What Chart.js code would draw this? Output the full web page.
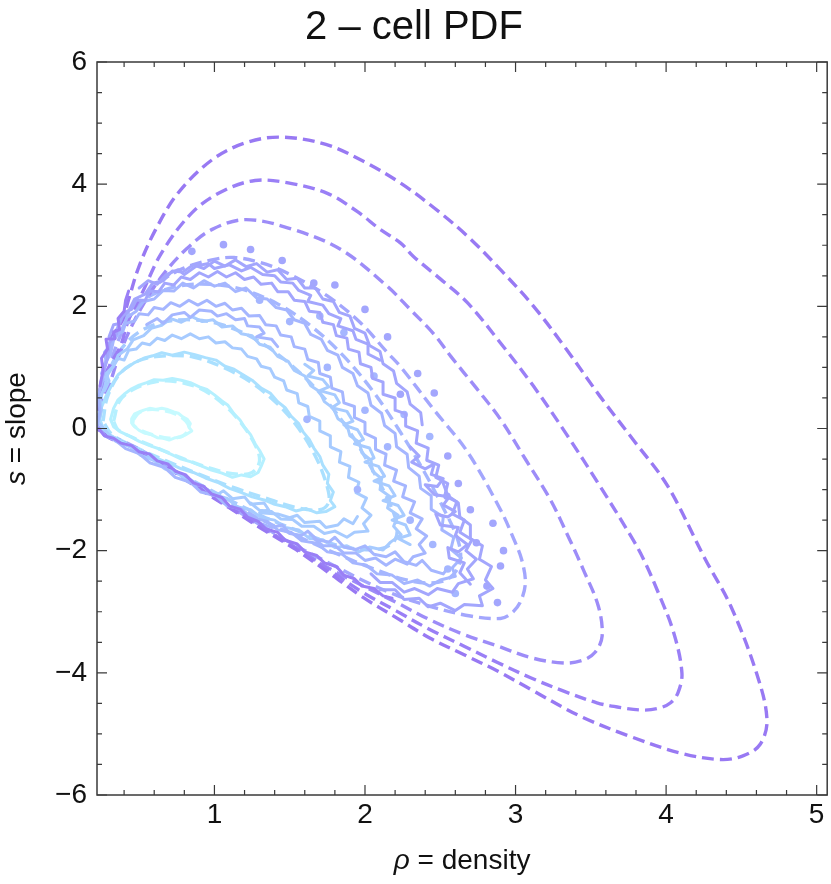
<!DOCTYPE html>
<html lang="en">
<head>
  <meta charset="UTF-8" />
  <title>2-cell PDF</title>
  <script src="https://cdn.jsdelivr.net/npm/chart.js"></script>
  <style>
    html, body { margin: 0; padding: 0; background: #fff; }
    #wrap { position: relative; width: 831px; height: 884px; }
  </style>
</head>
<body>
<div id="wrap"><canvas id="pdfChart"></canvas></div>
<script>
// axis ticks
const X_TICKS = [1, 2, 3, 4, 5];
const X_MINOR = [0.4, 0.6, 0.8, 1.2, 1.4, 1.6, 1.8, 2.2, 2.4, 2.6, 2.8, 3.2, 3.4, 3.6, 3.8, 4.2, 4.4, 4.6, 4.8];
const Y_TICKS = [-6, -4, -2, 0, 2, 4, 6];
const Y_MINOR = [-5.5, -5, -4.5, -3.5, -3, -2.5, -1.5, -1, -0.5, 0.5, 1, 1.5, 2.5, 3, 3.5, 4.5, 5, 5.5];

// contour colours, innermost (high density) to outermost
const LEVEL_COLORS = ['#c6faff', '#b5f0ff', '#aae0ff', '#a7cbff', '#a5b6ff', '#a3a6fd', '#9d8cf8', '#9a7ff6', '#9879f3'];

// theory contours (dashed), [rho, s]
const T1 = [[0.46,0.14],[0.50,0.26],[0.56,0.31],[0.65,0.30],[0.74,0.24],[0.81,0.12],[0.83,0.0],[0.79,-0.12],[0.70,-0.16],[0.60,-0.11],[0.51,-0.03],[0.46,0.06],[0.46,0.14]];
const T2 = [[0.33,0.12],[0.37,0.45],[0.46,0.64],[0.60,0.76],[0.74,0.77],[0.90,0.66],[1.04,0.44],[1.16,0.14],[1.26,-0.22],[1.30,-0.52],[1.25,-0.72],[1.12,-0.74],[0.96,-0.64],[0.78,-0.48],[0.60,-0.30],[0.45,-0.14],[0.36,-0.02],[0.33,0.12]];
const T3 = [[0.26,0.12],[0.29,0.52],[0.38,0.92],[0.52,1.13],[0.68,1.19],[0.86,1.17],[1.05,1.01],[1.24,0.76],[1.42,0.40],[1.56,0.0],[1.67,-0.45],[1.74,-0.88],[1.76,-1.20],[1.70,-1.33],[1.54,-1.29],[1.34,-1.14],[1.12,-0.96],[0.90,-0.75],[0.68,-0.53],[0.47,-0.30],[0.32,-0.10],[0.26,0.12]];
const T4 = [[0.23,0.1],[0.25,0.55],[0.30,0.95],[0.38,1.30],[0.50,1.58],[0.66,1.74],[0.85,1.78],[1.05,1.70],[1.28,1.45],[1.50,1.06],[1.70,0.58],[1.87,0.05],[2.02,-0.55],[2.14,-1.10],[2.21,-1.55],[2.20,-1.82],[2.12,-1.96],[1.98,-1.98],[1.80,-1.90],[1.58,-1.70],[1.34,-1.46],[1.10,-1.17],[0.86,-0.86],[0.62,-0.55],[0.40,-0.27],[0.28,-0.10],[0.23,0.1]];
const T5 = [[0.22,0.05],[0.24,0.6],[0.28,1.1],[0.34,1.55],[0.44,1.93],[0.58,2.18],[0.76,2.33],[0.97,2.36],[1.18,2.28],[1.42,2.04],[1.65,1.66],[1.86,1.18],[2.05,0.62],[2.22,0.0],[2.38,-0.65],[2.52,-1.30],[2.62,-1.85],[2.63,-2.20],[2.56,-2.45],[2.43,-2.53],[2.26,-2.47],[2.06,-2.30],[1.84,-2.08],[1.60,-1.82],[1.36,-1.55],[1.12,-1.24],[0.88,-0.90],[0.64,-0.56],[0.42,-0.26],[0.29,-0.11],[0.22,0.05]];
const T6 = [[0.22,0.0],[0.24,0.35],[0.28,0.8],[0.34,1.3],[0.42,1.75],[0.52,2.12],[0.65,2.42],[0.8,2.63],[1.0,2.77],[1.13,2.80],[1.3,2.72],[1.48,2.55],[1.75,2.17],[1.97,1.73],[2.15,1.24],[2.24,1.0],[2.46,0.30],[2.68,-0.38],[2.90,-1.33],[2.99,-1.82],[3.04,-2.14],[3.065,-2.53],[3.03,-2.85],[2.97,-3.03],[2.90,-3.11],[2.70,-3.07],[2.43,-2.91],[2.2,-2.72],[1.98,-2.48],[1.76,-2.2],[1.54,-1.92],[1.32,-1.6],[1.1,-1.27],[0.87,-0.91],[0.65,-0.55],[0.43,-0.25],[0.3,-0.12],[0.22,0.0]];
const T7 = [[0.22,0.0],[0.24,0.35],[0.30,0.70],[0.36,1.15],[0.43,1.57],[0.52,2.0],[0.65,2.49],[0.81,2.93],[0.985,3.26],[1.21,3.42],[1.52,3.26],[1.84,2.93],[2.147,2.33],[2.30,1.95],[2.456,1.55],[2.57,1.18],[2.74,0.66],[2.90,0.15],[3.07,-0.52],[3.23,-1.16],[3.36,-1.82],[3.45,-2.31],[3.55,-2.91],[3.575,-3.40],[3.53,-3.66],[3.45,-3.79],[3.32,-3.84],[3.10,-3.75],[2.88,-3.56],[2.655,-3.37],[2.43,-3.13],[2.21,-2.85],[1.99,-2.58],[1.77,-2.30],[1.54,-1.95],[1.32,-1.62],[1.10,-1.28],[0.87,-0.92],[0.65,-0.57],[0.43,-0.27],[0.30,-0.14],[0.22,0.0]];
const T8 = [[0.22,0.0],[0.24,0.4],[0.27,0.85],[0.32,1.10],[0.376,1.35],[0.43,1.78],[0.52,2.22],[0.65,2.88],[0.85,3.53],[1.05,3.88],[1.27,4.06],[1.49,4.02],[1.75,3.85],[1.95,3.55],[2.10,3.26],[2.235,3.04],[2.32,2.82],[2.50,2.45],[2.68,2.06],[2.90,1.40],[3.12,0.69],[3.34,-0.10],[3.56,-0.94],[3.78,-1.82],[3.85,-2.14],[3.94,-2.64],[4.05,-3.34],[4.105,-4.0],[4.08,-4.32],[4.03,-4.49],[3.95,-4.58],[3.85,-4.61],[3.70,-4.57],[3.54,-4.49],[3.32,-4.30],[3.10,-4.08],[2.88,-3.83],[2.655,-3.56],[2.43,-3.29],[2.21,-2.99],[1.99,-2.69],[1.77,-2.33],[1.54,-1.96],[1.32,-1.63],[1.10,-1.29],[0.87,-0.93],[0.65,-0.57],[0.43,-0.27],[0.30,-0.14],[0.22,0.0]];
const T9 = [[0.22,0.0],[0.23,0.35],[0.243,0.69],[0.28,1.13],[0.31,1.46],[0.35,1.62],[0.39,1.78],[0.43,2.11],[0.50,2.66],[0.61,3.26],[0.76,3.86],[0.985,4.40],[1.21,4.68],[1.44,4.77],[1.74,4.65],[2.0,4.36],[2.235,4.02],[2.46,3.61],[2.68,3.15],[2.90,2.60],[3.12,2.0],[3.34,1.29],[3.56,0.53],[3.78,-0.18],[4.01,-0.94],[4.26,-2.14],[4.43,-2.91],[4.60,-4.0],[4.67,-4.76],[4.625,-5.17],[4.51,-5.36],[4.36,-5.42],[4.09,-5.31],[3.76,-5.04],[3.43,-4.71],[3.10,-4.27],[2.88,-3.97],[2.655,-3.70],[2.43,-3.43],[2.21,-3.10],[1.99,-2.77],[1.77,-2.38],[1.54,-1.98],[1.32,-1.65],[1.10,-1.30],[0.87,-0.94],[0.65,-0.58],[0.43,-0.28],[0.30,-0.15],[0.22,0.0]];

// simulated contours (solid, noisy), [rho, s]
const N1 = [[0.45,0.16],[0.47,0.24],[0.50,0.27],[0.53,0.30],[0.57,0.33],[0.61,0.31],[0.65,0.33],[0.69,0.31],[0.73,0.27],[0.76,0.25],[0.79,0.19],[0.82,0.15],[0.84,0.08],[0.83,0.02],[0.85,-0.04],[0.81,-0.10],[0.78,-0.14],[0.74,-0.15],[0.70,-0.19],[0.66,-0.16],[0.62,-0.15],[0.58,-0.10],[0.54,-0.08],[0.50,-0.03],[0.47,0.03],[0.45,0.09],[0.45,0.16]];
const N2 = [[0.31,0.15],[0.33,0.33],[0.36,0.47],[0.40,0.56],[0.45,0.65],[0.50,0.71],[0.55,0.75],[0.60,0.80],[0.66,0.79],[0.72,0.82],[0.78,0.79],[0.84,0.75],[0.90,0.68],[0.95,0.64],[1.0,0.55],[1.05,0.45],[1.09,0.38],[1.13,0.24],[1.17,0.14],[1.20,0.02],[1.24,-0.10],[1.27,-0.25],[1.30,-0.36],[1.33,-0.50],[1.31,-0.62],[1.29,-0.72],[1.24,-0.79],[1.18,-0.76],[1.12,-0.80],[1.05,-0.73],[0.98,-0.68],[0.92,-0.62],[0.85,-0.55],[0.78,-0.50],[0.71,-0.42],[0.64,-0.34],[0.57,-0.28],[0.50,-0.21],[0.44,-0.13],[0.38,-0.06],[0.33,0.03],[0.31,0.15]];
const N3 = [[0.24,0.15],[0.25,0.35],[0.28,0.53],[0.32,0.72],[0.36,0.88],[0.41,0.98],[0.47,1.08],[0.53,1.15],[0.59,1.19],[0.65,1.24],[0.72,1.20],[0.80,1.25],[0.87,1.21],[0.94,1.16],[1.01,1.12],[1.07,1.02],[1.13,0.97],[1.19,0.88],[1.25,0.79],[1.31,0.66],[1.37,0.58],[1.42,0.44],[1.47,0.34],[1.51,0.20],[1.56,0.08],[1.59,-0.06],[1.63,-0.18],[1.66,-0.32],[1.70,-0.46],[1.72,-0.60],[1.76,-0.75],[1.75,-0.90],[1.79,-1.04],[1.77,-1.18],[1.80,-1.28],[1.74,-1.36],[1.68,-1.38],[1.61,-1.31],[1.54,-1.35],[1.47,-1.28],[1.40,-1.24],[1.33,-1.17],[1.25,-1.12],[1.18,-1.05],[1.10,-0.98],[1.02,-0.88],[0.94,-0.81],[0.86,-0.72],[0.78,-0.66],[0.70,-0.57],[0.62,-0.49],[0.54,-0.40],[0.46,-0.30],[0.38,-0.21],[0.31,-0.11],[0.26,0.0],[0.24,0.15]];
const N4 = [[0.23,0.10],[0.25,0.30],[0.24,0.50],[0.27,0.68],[0.29,0.88],[0.33,1.02],[0.36,1.20],[0.42,1.30],[0.46,1.45],[0.53,1.52],[0.58,1.64],[0.65,1.69],[0.71,1.80],[0.78,1.74],[0.85,1.83],[0.92,1.75],[0.99,1.78],[1.05,1.66],[1.12,1.68],[1.18,1.55],[1.25,1.52],[1.30,1.38],[1.37,1.33],[1.42,1.18],[1.49,1.10],[1.53,0.95],[1.60,0.86],[1.64,0.70],[1.70,0.60],[1.73,0.44],[1.79,0.33],[1.82,0.16],[1.88,0.06],[1.90,-0.12],[1.96,-0.22],[1.98,-0.40],[2.04,-0.52],[2.05,-0.70],[2.11,-0.82],[2.10,-1.00],[2.17,-1.12],[2.15,-1.30],[2.22,-1.42],[2.19,-1.60],[2.24,-1.74],[2.17,-1.86],[2.12,-1.99],[2.03,-1.94],[1.96,-2.02],[1.88,-1.92],[1.80,-1.95],[1.72,-1.82],[1.63,-1.80],[1.56,-1.66],[1.47,-1.62],[1.40,-1.50],[1.31,-1.46],[1.24,-1.33],[1.15,-1.28],[1.08,-1.14],[0.99,-1.08],[0.92,-0.94],[0.83,-0.88],[0.76,-0.74],[0.67,-0.66],[0.60,-0.52],[0.51,-0.44],[0.44,-0.30],[0.36,-0.22],[0.30,-0.10],[0.23,0.10]];
const N5 = [[0.22,0.05],[0.24,0.28],[0.23,0.55],[0.26,0.80],[0.27,1.05],[0.31,1.22],[0.33,1.45],[0.38,1.60],[0.42,1.82],[0.48,1.92],[0.53,2.08],[0.60,2.12],[0.66,2.26],[0.73,2.25],[0.79,2.38],[0.86,2.30],[0.93,2.42],[1.00,2.33],[1.07,2.38],[1.14,2.24],[1.21,2.30],[1.28,2.14],[1.35,2.12],[1.41,1.98],[1.48,1.94],[1.53,1.78],[1.60,1.72],[1.64,1.54],[1.71,1.46],[1.75,1.28],[1.82,1.20],[1.85,1.00],[1.92,0.90],[1.95,0.70],[2.02,0.58],[2.04,0.38],[2.11,0.25],[2.13,0.05],[2.20,-0.08],[2.21,-0.30],[2.28,-0.42],[2.29,-0.64],[2.36,-0.78],[2.37,-0.98],[2.44,-1.10],[2.44,-1.32],[2.52,-1.45],[2.51,-1.66],[2.59,-1.78],[2.57,-1.98],[2.64,-2.12],[2.58,-2.28],[2.60,-2.42],[2.50,-2.48],[2.43,-2.58],[2.35,-2.48],[2.26,-2.54],[2.18,-2.40],[2.08,-2.38],[2.01,-2.24],[1.92,-2.20],[1.85,-2.06],[1.75,-2.02],[1.68,-1.88],[1.58,-1.84],[1.51,-1.70],[1.42,-1.66],[1.35,-1.52],[1.25,-1.46],[1.18,-1.32],[1.08,-1.26],[1.01,-1.10],[0.91,-1.04],[0.84,-0.88],[0.74,-0.80],[0.67,-0.64],[0.57,-0.56],[0.50,-0.41],[0.41,-0.33],[0.34,-0.19],[0.27,-0.12],[0.22,0.05]];
const N6_UPPER = [[0.26,0.9],[0.29,1.15],[0.30,1.40],[0.35,1.55],[0.37,1.80],[0.43,1.92],[0.47,2.12],[0.54,2.20],[0.59,2.38],[0.66,2.42],[0.72,2.58],[0.79,2.56],[0.86,2.68],[0.93,2.62],[1.00,2.74],[1.07,2.66],[1.14,2.76],[1.21,2.65],[1.28,2.70],[1.35,2.56],[1.42,2.60],[1.48,2.44],[1.55,2.46],[1.60,2.30],[1.67,2.30],[1.72,2.12],[1.79,2.08],[1.83,1.90],[1.90,1.84],[1.93,1.64],[2.00,1.56],[2.03,1.36],[2.10,1.26],[2.12,1.06],[2.19,0.94],[2.21,0.74],[2.28,0.60],[2.30,0.40],[2.37,0.26],[2.38,0.06]];
const N6_LOWER = [[2.52,-0.9],[2.55,-1.10],[2.62,-1.22],[2.63,-1.45],[2.70,-1.58],[2.70,-1.80],[2.78,-1.92],[2.76,-2.14],[2.84,-2.26],[2.80,-2.48],[2.85,-2.62],[2.76,-2.74],[2.78,-2.90],[2.66,-2.88],[2.60,-2.98],[2.50,-2.86],[2.42,-2.92],[2.36,-2.78],[2.26,-2.80],[2.20,-2.64],[2.10,-2.64]];
const N_EDGE = [[0.23,0.0],[0.27,-0.12],[0.33,-0.16],[0.38,-0.24],[0.45,-0.28],[0.50,-0.38],[0.57,-0.42],[0.62,-0.53],[0.69,-0.58],[0.74,-0.70],[0.81,-0.76],[0.86,-0.89],[0.93,-0.95],[0.98,-1.07],[1.05,-1.13],[1.10,-1.27],[1.17,-1.32],[1.22,-1.45],[1.29,-1.52],[1.34,-1.64],[1.42,-1.70],[1.47,-1.83],[1.55,-1.89],[1.60,-2.02],[1.68,-2.08],[1.73,-2.20],[1.81,-2.26],[1.86,-2.40],[1.93,-2.46],[1.98,-2.58],[2.06,-2.62],[2.12,-2.74],[2.18,-2.78]];
const N_LEFT = [[0.24,0.7],[0.26,0.95],[0.25,1.15],[0.29,1.30],[0.28,1.46],[0.34,1.47],[0.33,1.58],[0.37,1.62],[0.36,1.80],[0.40,1.92],[0.41,2.10],[0.43,2.25]];

// extra broken strands of the simulated contours inside the noisy band
const S1 = [[0.27,0.62],[0.30,0.78],[0.28,0.90],[0.33,1.02],[0.36,1.15],[0.40,1.12],[0.43,1.28],[0.48,1.30],[0.52,1.40],[0.57,1.37],[0.62,1.48],[0.67,1.44],[0.72,1.53],[0.78,1.47],[0.84,1.55],[0.90,1.47],[0.96,1.50],[1.01,1.40],[1.07,1.42],[1.12,1.32],[1.18,1.30],[1.22,1.18],[1.28,1.14],[1.31,1.02],[1.37,0.98],[1.40,0.84],[1.46,0.78],[1.48,0.63],[1.55,0.57],[1.56,0.42],[1.62,0.36],[1.63,0.20],[1.70,0.12],[1.70,-0.04],[1.77,-0.12],[1.77,-0.30],[1.84,-0.38],[1.83,-0.55],[1.90,-0.62],[1.89,-0.80],[1.96,-0.88],[1.94,-1.05],[2.01,-1.14],[1.98,-1.30],[2.04,-1.42],[1.99,-1.56],[2.02,-1.68],[1.93,-1.70],[1.88,-1.78],[1.80,-1.68],[1.73,-1.72],[1.66,-1.60],[1.58,-1.60],[1.52,-1.49],[1.44,-1.48],[1.38,-1.36],[1.30,-1.34],[1.24,-1.22]];
const S2 = [[0.25,0.9],[0.28,1.10],[0.27,1.25],[0.32,1.40],[0.34,1.55],[0.39,1.58],[0.41,1.72],[0.47,1.76],[0.50,1.88],[0.56,1.86],[0.60,1.98],[0.66,1.95],[0.71,2.06],[0.77,2.00],[0.83,2.10],[0.89,2.02],[0.95,2.10],[1.01,2.00],[1.07,2.05],[1.12,1.94],[1.18,1.97],[1.23,1.84],[1.30,1.85],[1.34,1.70],[1.41,1.68],[1.44,1.53],[1.51,1.50],[1.53,1.34],[1.60,1.30],[1.62,1.13],[1.69,1.08],[1.70,0.90],[1.77,0.84],[1.78,0.66],[1.85,0.60],[1.86,0.42],[1.93,0.36],[1.93,0.18],[2.00,0.10],[2.00,-0.08],[2.07,-0.16],[2.07,-0.34],[2.14,-0.42],[2.13,-0.60],[2.21,-0.68],[2.19,-0.86],[2.27,-0.94],[2.25,-1.12],[2.33,-1.20],[2.30,-1.38],[2.38,-1.48],[2.34,-1.64],[2.41,-1.76],[2.36,-1.90],[2.40,-2.04],[2.32,-2.10],[2.28,-2.22],[2.20,-2.14],[2.14,-2.24],[2.07,-2.12],[2.00,-2.16],[1.94,-2.04],[1.86,-2.04],[1.80,-1.92],[1.72,-1.92],[1.66,-1.80]];
const S3 = [[0.30,1.50],[0.33,1.70],[0.37,1.72],[0.40,1.90],[0.45,1.95],[0.48,2.10],[0.54,2.10],[0.57,2.25],[0.63,2.24],[0.67,2.38],[0.73,2.35],[0.78,2.48],[0.84,2.44],[0.90,2.55],[0.96,2.48],[1.02,2.57],[1.08,2.48],[1.14,2.55],[1.20,2.44],[1.26,2.48],[1.31,2.36],[1.38,2.38],[1.42,2.24],[1.49,2.24],[1.53,2.10],[1.60,2.08],[1.63,1.92],[1.70,1.90],[1.72,1.74],[1.79,1.70],[1.81,1.52],[1.88,1.48],[1.89,1.30],[1.96,1.25],[1.97,1.06],[2.04,1.00],[2.05,0.82],[2.12,0.76],[2.12,0.56],[2.20,0.50],[2.20,0.30],[2.27,0.24],[2.27,0.04],[2.35,-0.04],[2.34,-0.24],[2.42,-0.32],[2.41,-0.52],[2.49,-0.60],[2.47,-0.80],[2.55,-0.90],[2.53,-1.10],[2.61,-1.20],[2.58,-1.40],[2.66,-1.50],[2.63,-1.70],[2.71,-1.82],[2.67,-2.00],[2.74,-2.14],[2.68,-2.30],[2.72,-2.46],[2.62,-2.54],[2.58,-2.68],[2.48,-2.62],[2.42,-2.72],[2.33,-2.62],[2.26,-2.68],[2.18,-2.52],[2.10,-2.52],[2.04,-2.38]];
const S4 = [[0.95,-1.00],[1.02,-1.08],[1.06,-1.02],[1.12,-1.15],[1.20,-1.12],[1.24,-1.24],[1.33,-1.22],[1.36,-1.33],[1.30,-1.38],[1.42,-1.40],[1.50,-1.46],[1.55,-1.42],[1.60,-1.54],[1.70,-1.52],[1.74,-1.62],[1.82,-1.58],[1.86,-1.48],[1.92,-1.56],[1.95,-1.44]];
const S5 = [[1.30,-1.55],[1.38,-1.62],[1.45,-1.58],[1.50,-1.72],[1.58,-1.75],[1.62,-1.68],[1.68,-1.82],[1.76,-1.86],[1.80,-1.78],[1.86,-1.94],[1.94,-1.98],[2.00,-1.92],[2.06,-2.06],[2.14,-2.10],[2.20,-2.02],[2.26,-2.18],[2.34,-2.24],[2.38,-2.16],[2.44,-2.32],[2.52,-2.38],[2.55,-2.28]];
const S6 = [[2.30,-0.30],[2.36,-0.45],[2.31,-0.55],[2.40,-0.66],[2.46,-0.58],[2.44,-0.75],[2.52,-0.82],[2.48,-0.95],[2.40,-0.92],[2.46,-1.08],[2.56,-1.12],[2.52,-1.25],[2.60,-1.36],[2.55,-1.45],[2.47,-1.40],[2.50,-1.58],[2.62,-1.62],[2.60,-1.75],[2.68,-1.90],[2.62,-2.02],[2.55,-1.95],[2.56,-2.12],[2.66,-2.20],[2.63,-2.36],[2.70,-2.55]];
const S7 = [[1.60,1.05],[1.66,0.95],[1.62,0.86],[1.72,0.80],[1.76,0.68],[1.70,0.62],[1.80,0.55],[1.83,0.42],[1.78,0.34],[1.88,0.28],[1.92,0.12],[1.86,0.06],[1.95,-0.02],[1.99,-0.18],[1.93,-0.25],[2.03,-0.32],[2.06,-0.48],[2.00,-0.55],[2.09,-0.62],[2.13,-0.78],[2.06,-0.86],[2.16,-0.94],[2.20,-1.10],[2.12,-1.18],[2.22,-1.26],[2.26,-1.42],[2.18,-1.50],[2.27,-1.58],[2.30,-1.74],[2.22,-1.80],[2.30,-1.90]];
const S8 = [[0.55,1.70],[0.62,1.80],[0.66,1.72],[0.72,1.86],[0.80,1.90],[0.84,1.82],[0.90,1.94],[0.98,1.92],[1.02,1.84],[1.08,1.88],[1.14,1.78],[1.20,1.80],[1.22,1.68],[1.30,1.66],[1.33,1.56],[1.28,1.50],[1.38,1.46],[1.42,1.34]];
const S9 = [[0.50,2.30],[0.56,2.42],[0.62,2.36],[0.68,2.52],[0.76,2.60],[0.80,2.52],[0.88,2.66],[0.96,2.70],[1.00,2.62],[1.10,2.68],[1.18,2.58],[1.24,2.64],[1.32,2.52],[1.40,2.50],[1.44,2.40],[1.52,2.38],[1.56,2.26],[1.64,2.18],[1.62,2.08],[1.72,2.02],[1.76,1.88],[1.84,1.80],[1.82,1.68],[1.92,1.60],[1.94,1.46],[2.02,1.38],[2.02,1.22],[2.10,1.12]];

// small isolated islands of the simulated contours
const ISLANDS_L5 = [[1.615,0.15],[2.06,0.86],[2.26,0.23],[2.43,-0.13],[1.86,1.57],[1.70,1.84],[2.15,-0.30],[2.30,-1.50],[2.55,-2.30],[2.00,0.30],[1.75,1.00],[1.50,1.75],[1.95,-1.00],[2.45,-1.90],[2.60,-2.70],[1.30,2.10]];
const ISLANDS_L6 = [[1.06,3.01],[1.24,2.93],[1.66,2.38],[2.235,0.56],[2.46,0.58],[2.545,-1.11],[2.70,-1.33],[2.74,-1.87],[2.90,-2.25],[2.81,-2.58],[2.35,0.90],[2.55,-0.45],[2.62,-0.90],[2.85,-1.55],[2.92,-2.00],[2.88,-2.85],[2.00,1.95],[1.80,2.35],[1.45,2.75],[0.85,2.90],[2.15,1.50]];

const toPts = arr => arr.map(p => ({ x: p[0], y: p[1] }));

function solid(arr, level) {
  return { data: toPts(arr), showLine: true, borderColor: LEVEL_COLORS[level], borderWidth: 3,
           pointRadius: 0, tension: 0, fill: false, borderJoinStyle: 'round', borderCapStyle: 'round' };
}
function dashed(arr, level) {
  return { data: toPts(arr), showLine: true, borderColor: LEVEL_COLORS[level], borderWidth: 3.4,
           borderDash: [12, 6], pointRadius: 0, tension: 0.35, fill: false, borderCapStyle: 'butt' };
}
function islands(arr, level) {
  return { data: toPts(arr), showLine: false, pointRadius: 3.8, pointBorderWidth: 0,
           pointBackgroundColor: LEVEL_COLORS[level], pointHoverRadius: 0 };
}

const datasets = [
  solid(N_EDGE, 7), solid(N_LEFT, 7),
  solid(N6_UPPER, 5), solid(N6_LOWER, 5), solid(S3, 5), solid(S9, 5), solid(S6, 5), islands(ISLANDS_L6, 5),
  solid(N5, 4), solid(S2, 4), solid(S5, 4), solid(S8, 4), islands(ISLANDS_L5, 4),
  solid(N4, 3), solid(S1, 3), solid(S4, 3), solid(S7, 3),
  solid(N3, 2), solid(N2, 1), solid(N1, 0),
  dashed(T9, 8), dashed(T8, 7), dashed(T7, 6), dashed(T6, 5), dashed(T5, 4),
  dashed(T4, 3), dashed(T3, 2), dashed(T2, 1), dashed(T1, 0)
];

const FONT = '"Liberation Sans", Arial, Helvetica, sans-serif';

// inward ticks on all four sides, the frame and the axis titles
const framePlugin = {
  id: 'frameTicks',
  afterDraw(chart) {
    const { ctx, chartArea: a, scales: { x, y } } = chart;
    ctx.save();
    ctx.strokeStyle = '#3a3a3a';
    ctx.lineWidth = 1.5;
    ctx.strokeRect(a.left, a.top, a.right - a.left, a.bottom - a.top);

    ctx.lineWidth = 1.2;
    ctx.beginPath();
    const xt = (v, len) => {
      const px = x.getPixelForValue(v);
      ctx.moveTo(px, a.bottom); ctx.lineTo(px, a.bottom - len);
      ctx.moveTo(px, a.top); ctx.lineTo(px, a.top + len);
    };
    const yt = (v, len) => {
      const py = y.getPixelForValue(v);
      ctx.moveTo(a.left, py); ctx.lineTo(a.left + len, py);
      ctx.moveTo(a.right, py); ctx.lineTo(a.right - len, py);
    };
    X_TICKS.forEach(v => xt(v, 10));
    X_MINOR.forEach(v => xt(v, 5));
    Y_TICKS.forEach(v => yt(v, 10));
    Y_MINOR.forEach(v => yt(v, 5));
    ctx.stroke();

    ctx.fillStyle = '#111';
    const drawMixed = (parts, cx, cy) => {
      let total = 0;
      const ws = parts.map(([t, it]) => {
        ctx.font = (it ? 'italic ' : '') + '28px ' + FONT;
        const w = ctx.measureText(t).width; total += w; return w;
      });
      let xx = cx - total / 2;
      parts.forEach(([t, it], i) => {
        ctx.font = (it ? 'italic ' : '') + '28px ' + FONT;
        ctx.fillText(t, xx, cy); xx += ws[i];
      });
    };
    ctx.textAlign = 'left';
    ctx.textBaseline = 'alphabetic';
    drawMixed([['\u03c1', true], [' = density', false]], (a.left + a.right) / 2, 869);

    ctx.save();
    ctx.translate(25, (a.top + a.bottom) / 2);
    ctx.rotate(-Math.PI / 2);
    drawMixed([['s', true], [' = slope', false]], 0, 0);
    ctx.restore();
    ctx.restore();
  }
};

new Chart(document.getElementById('pdfChart'), {
  type: 'scatter',
  data: { datasets },
  options: {
    responsive: true,
    maintainAspectRatio: false,
    animation: false,
    layout: { padding: { left: 0, right: 3, top: 0, bottom: 0 } },
    plugins: {
      legend: { display: false },
      tooltip: { enabled: false },
      title: {
        display: true,
        text: '2 \u2013 cell PDF',
        color: '#111',
        font: { family: FONT, size: 40, weight: 'normal' },
        padding: { top: 4, bottom: 10 }
      }
    },
    scales: {
      x: {
        type: 'linear', min: 0.22, max: 5.07,
        grid: { display: false, drawTicks: false },
        border: { display: false },
        afterBuildTicks: s => { s.ticks = X_TICKS.map(v => ({ value: v })); },
        afterFit: s => { s.height = 89; },
        ticks: { color: '#111', padding: 3, font: { family: FONT, size: 28 }, callback: v => String(v) }
      },
      y: {
        type: 'linear', min: -6, max: 6,
        grid: { display: false, drawTicks: false },
        border: { display: false },
        afterBuildTicks: s => { s.ticks = Y_TICKS.map(v => ({ value: v })); },
        afterFit: s => { s.width = 97; },
        ticks: { color: '#111', padding: 10, font: { family: FONT, size: 28 },
                 callback: v => v < 0 ? '\u2212' + Math.abs(v) : String(v) }
      }
    }
  },
  plugins: [framePlugin]
});
</script>
</body>
</html>
